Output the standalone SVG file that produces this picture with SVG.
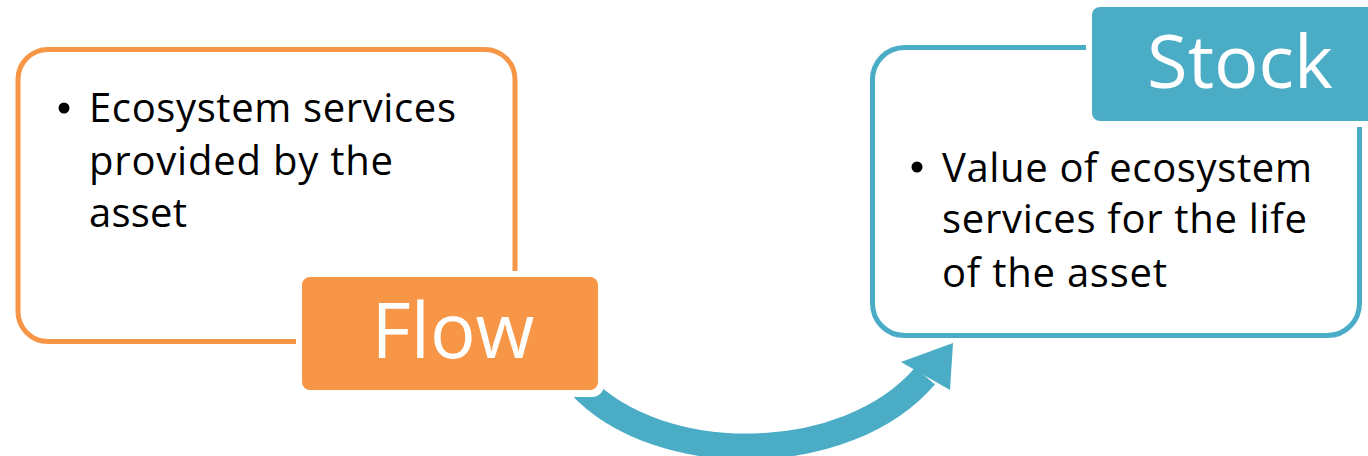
<svg xmlns="http://www.w3.org/2000/svg" width="1368" height="456" viewBox="0 0 1368 456">
<style>
.body{font-family:"Open Sans","Liberation Sans",sans-serif;font-size:40px;fill:#000}
.lbl{font-family:"Open Sans","Liberation Sans",sans-serif;fill:#fff}
</style>
<rect width="1368" height="456" fill="#fff"/>
<g id="connectors">
<path d="M580,385 C660,470 847,467 925,376" fill="none" stroke="#4BACC6" stroke-width="26"/>
<polygon points="953,343 901,362 950,390" fill="#4BACC6"/>
</g>
<g id="flow-node">
<rect x="18" y="49.5" width="497" height="292" rx="30" fill="none" stroke="#F79646" stroke-width="5"/>
<text class="body"><tspan x="89" y="122" textLength="367" lengthAdjust="spacing">Ecosystem services</tspan><tspan x="89" y="175" textLength="304" lengthAdjust="spacing">provided by the</tspan><tspan x="89" y="227" textLength="98" lengthAdjust="spacing">asset</tspan></text>
<circle cx="64" cy="108" r="5.5" fill="#000"/>
</g>
<g id="flow-label">
<rect x="296" y="271" width="308" height="126" rx="12" fill="#fff"/>
<rect x="302" y="277" width="296" height="113" rx="8" fill="#F79646"/>
<text class="lbl" x="453" y="358" font-size="76" text-anchor="middle">Flow</text>
</g>
<g id="stock-node">
<rect x="872.5" y="47.5" width="487" height="288" rx="32" fill="none" stroke="#4BACC6" stroke-width="5"/>
<text class="body"><tspan x="942" y="182" textLength="370" lengthAdjust="spacing">Value of ecosystem</tspan><tspan x="942" y="233" textLength="365" lengthAdjust="spacing">services for the life</tspan><tspan x="942" y="287" textLength="225" lengthAdjust="spacing">of the asset</tspan></text>
<circle cx="917" cy="167" r="5.5" fill="#000"/>
</g>
<g id="stock-label">
<rect x="1086" y="1" width="310" height="126" rx="12" fill="#fff"/>
<rect x="1092" y="7" width="300" height="114" rx="8" fill="#4BACC6"/>
<text class="lbl" x="1240" y="88" font-size="74" text-anchor="middle">Stock</text>
</g>
</svg>
